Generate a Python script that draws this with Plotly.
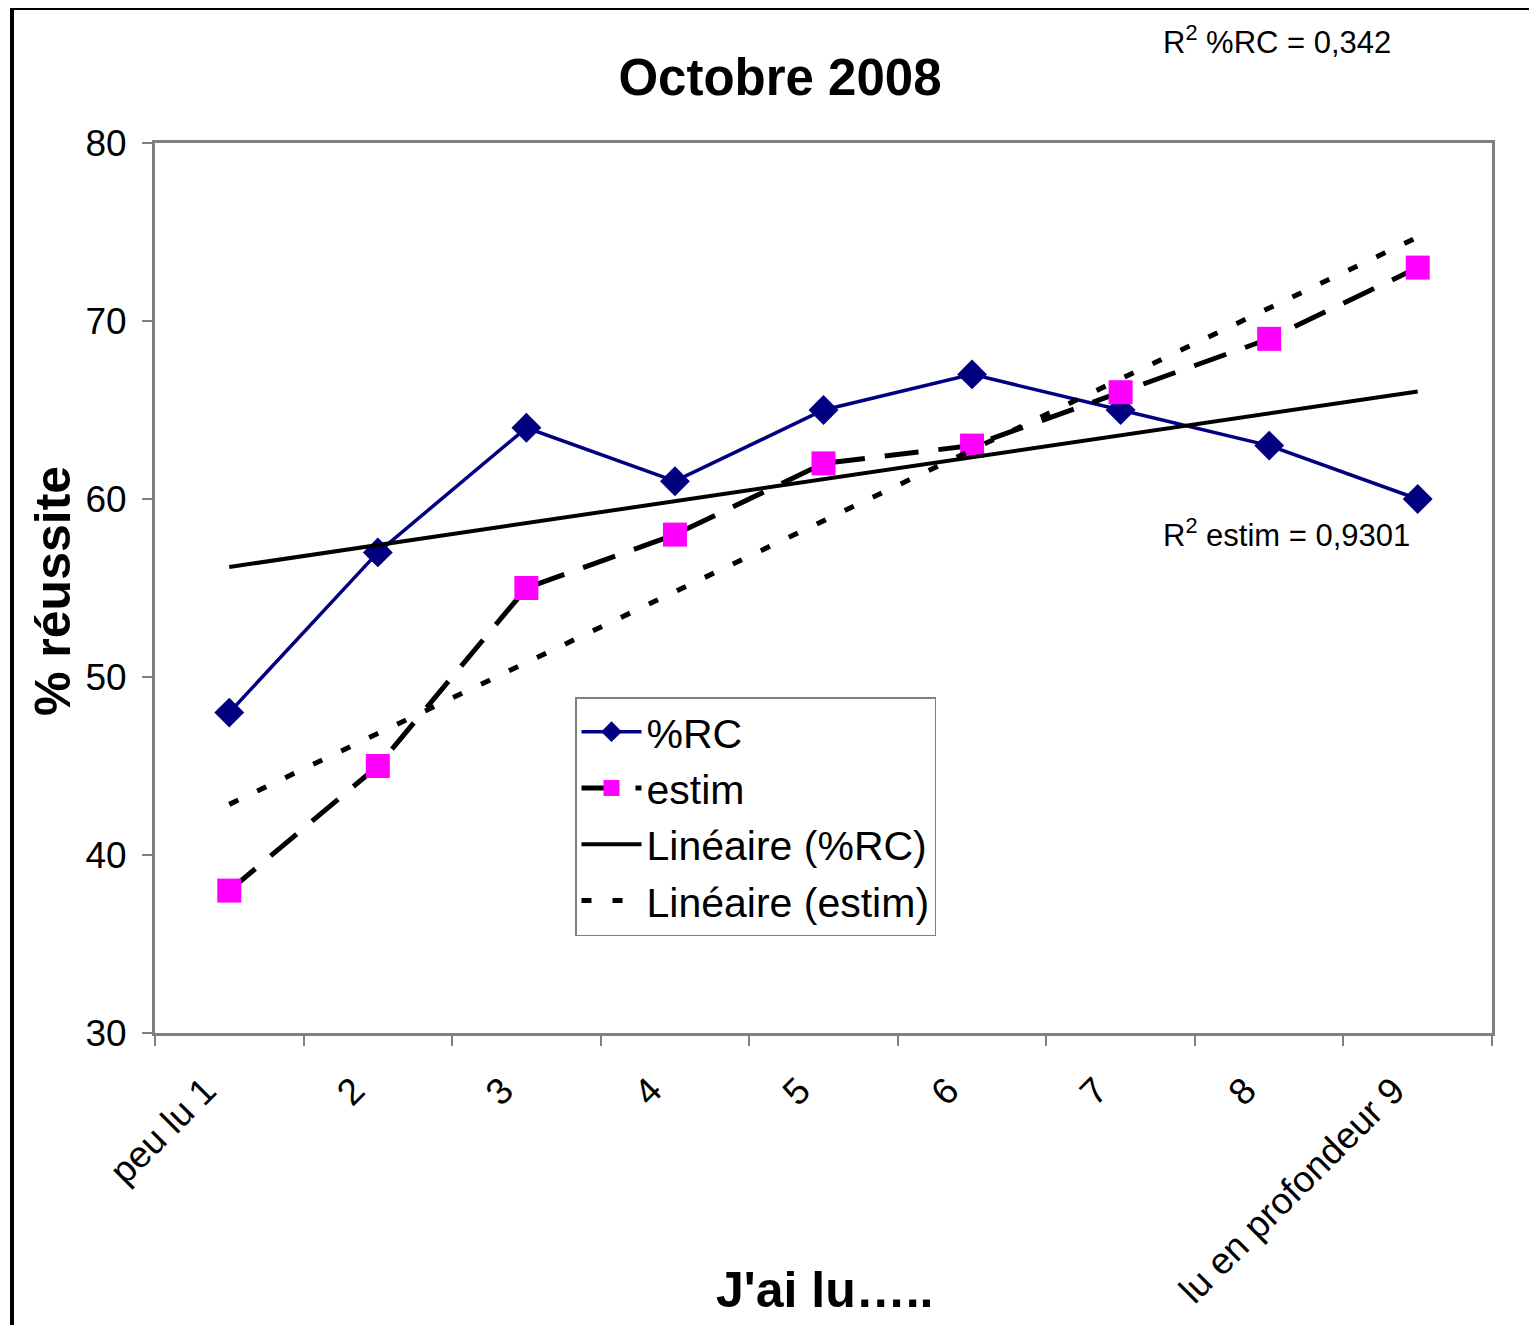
import numpy as np
import plotly.graph_objects as go

categories = ["peu lu 1", "2", "3", "4", "5", "6", "7", "8", "lu en profondeur 9"]
pct_rc = [48, 57, 64, 61, 65, 67, 65, 63, 60]
estim = [38, 45, 55, 58, 62, 63, 66, 69, 73]
r2_rc_label = "R<sup>2</sup> %RC = 0,342"
r2_estim_label = "R<sup>2</sup> estim = 0,9301"
y_ticks = [30, 40, 50, 60, 70, 80]

# page coordinates (the html body has an 8px margin)
OFF = 8
W, H = 1537 - OFF, 1325 - OFF
L, R, T, B = 155, 1492, 143, 1033

def px(xp):
    return (xp - L) / (R - L)

def py(yp):
    return (B - yp) / (B - T)

xi = np.arange(1, len(categories) + 1)
trend_rc = np.polyval(np.polyfit(xi, pct_rc, 1), xi)
trend_es = np.polyval(np.polyfit(xi, estim, 1), xi)

FONT = "Arial, Liberation Sans, sans-serif"

fig = go.Figure()
fig.add_trace(go.Scatter(
    x=categories, y=pct_rc, name="%RC", mode="lines+markers",
    line=dict(color="#000080", width=3.5),
    marker=dict(symbol="diamond", size=23, color="#000080"),
))
fig.add_trace(go.Scatter(
    x=categories, y=estim, name="estim", mode="lines+markers",
    line=dict(color="black", width=5, dash="34px,20px"),
    marker=dict(symbol="square", size=24, color="#FF00FF"),
))
fig.add_trace(go.Scatter(
    x=categories, y=trend_rc, name="Linéaire (%RC)", mode="lines",
    line=dict(color="black", width=4),
))
fig.add_trace(go.Scatter(
    x=categories, y=trend_es, name="Linéaire (estim)", mode="lines",
    line=dict(color="black", width=5, dash="10px,21px"),
))

fig.update_layout(
    width=W, height=H,
    margin=dict(l=L - OFF, r=W - (R - OFF), t=T - OFF, b=H - (B - OFF)),
    paper_bgcolor="white", plot_bgcolor="white",
    font=dict(family=FONT, color="black"),
    title=dict(text="<b>Octobre 2008</b>", x=(780 - OFF) / W, xanchor="center",
               y=1 - (77 - OFF) / H, yanchor="middle",
               font=dict(size=51, family=FONT, color="black")),
    showlegend=True,
    legend=dict(x=px(575), y=py(697), xanchor="left", yanchor="top",
                bgcolor="white", bordercolor="#808080", borderwidth=1.5,
                font=dict(size=41, family=FONT, color="black"),
                itemwidth=60, tracegroupgap=0),
)

fig.update_xaxes(
    type="category", tickson="boundaries", ticks="outside", ticklen=10,
    tickcolor="#808080", tickwidth=1.5, tickangle=-45,
    tickfont=dict(size=37, family=FONT, color="black"),
    ticklabelshift=-24, ticklabelstandoff=18,
    showline=True, linecolor="#808080", linewidth=3, mirror=True,
    showgrid=False, zeroline=False, range=[-0.5, len(categories) - 0.5],
)
fig.update_yaxes(
    range=[30, 80], tickvals=y_ticks, ticks="outside", ticklen=10,
    tickcolor="#808080", tickwidth=1.5, ticklabelstandoff=8,
    tickfont=dict(size=37, family=FONT, color="black"),
    showline=True, linecolor="#808080", linewidth=3, mirror=True,
    showgrid=False, zeroline=False,
)

annotations = [
    dict(text="<b>% réussite</b>", textangle=-90, x=px(53), y=py(591),
         xref="paper", yref="paper", showarrow=False,
         font=dict(size=50, family=FONT, color="black"),
         xanchor="center", yanchor="middle"),
    dict(text="<b>J'ai lu…..</b>", x=px(825), y=py(1290),
         xref="paper", yref="paper", showarrow=False,
         font=dict(size=50, family=FONT, color="black"),
         xanchor="center", yanchor="middle"),
    dict(text=r2_rc_label, x=px(1277), y=py(40),
         xref="paper", yref="paper", showarrow=False,
         font=dict(size=31, family=FONT, color="black"),
         xanchor="center", yanchor="middle"),
    dict(text=r2_estim_label, x=px(1286), y=py(533),
         xref="paper", yref="paper", showarrow=False,
         font=dict(size=31, family=FONT, color="black"),
         xanchor="center", yanchor="middle"),
]
fig.update_layout(annotations=annotations)

fig.add_shape(type="line", xref="paper", yref="paper",
              x0=px(12), x1=px(12), y0=py(8), y1=py(1400),
              line=dict(color="black", width=4))
fig.add_shape(type="line", xref="paper", yref="paper",
              x0=px(10), x1=px(1600), y0=py(8), y1=py(8),
              line=dict(color="black", width=4))

fig.write_html("out.html")
